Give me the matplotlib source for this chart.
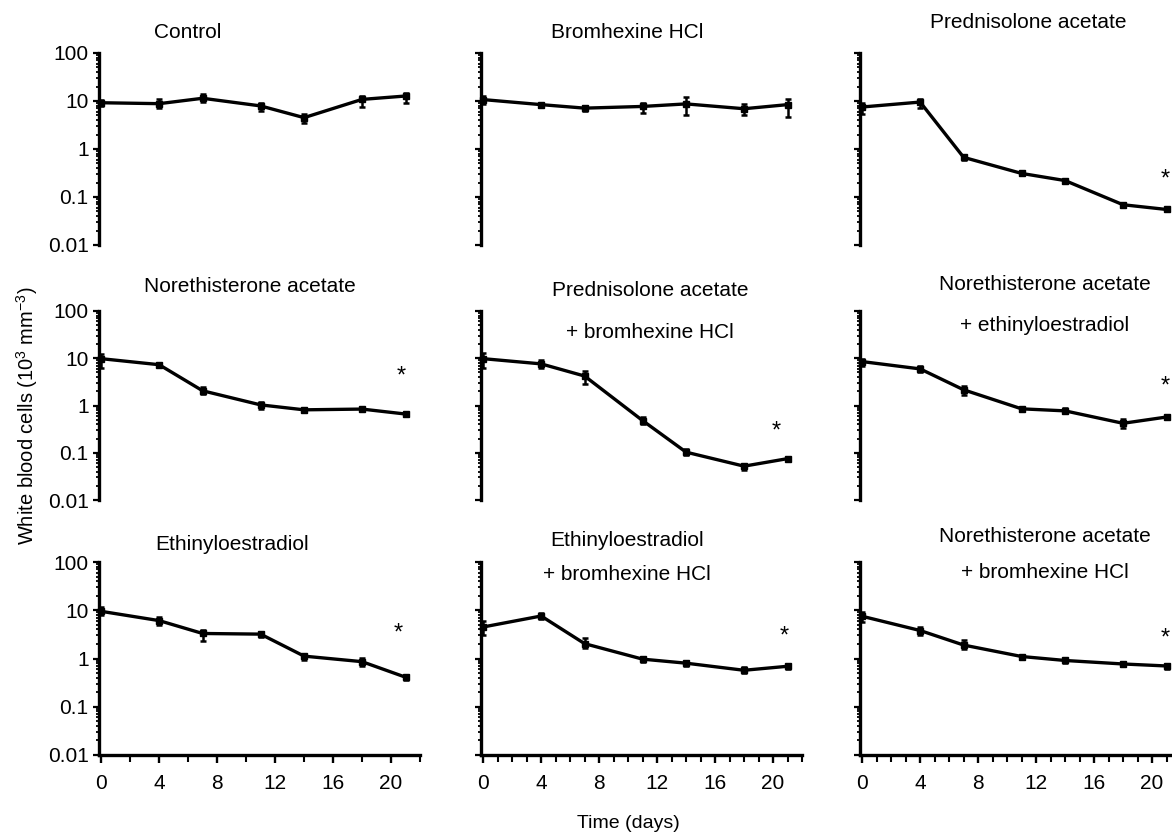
import numpy as np
import matplotlib.pyplot as plt
from matplotlib.ticker import FixedLocator, LogLocator, MultipleLocator, NullFormatter

plt.rcParams['font.family'] = ['Liberation Sans', 'DejaVu Sans']
plt.rcParams['mathtext.fontset'] = 'custom'
plt.rcParams['mathtext.rm'] = 'Liberation Sans'
plt.rcParams['mathtext.it'] = 'Liberation Sans:italic'

# sampling days (same for all groups)
days = [0, 4, 7, 11, 14, 18, 21]

# mean WBC (10^3 mm^-3) and error bar low / high
control = [9.2, 8.8, 11.4, 7.9, 4.5, 10.8, 12.7]
control_lo = [8.0, 7.3, 9.5, 6.2, 3.5, 7.6, 9.2]
control_hi = [10.5, 10.8, 13.8, 9.2, 5.3, 12.7, 14.9]

bromhex = [10.7, 8.4, 7.1, 7.7, 8.7, 6.9, 8.4]
bromhex_lo = [8.5, 7.6, 6.1, 5.6, 5.2, 5.0, 4.6]
bromhex_hi = [12.5, 9.1, 8.0, 9.1, 11.9, 8.7, 11.1]

pred = [7.5, 9.5, 0.67, 0.31, 0.22, 0.069, 0.055]
pred_lo = [5.3, 7.0, 0.59, 0.29, 0.20, 0.062, 0.050]
pred_hi = [9.2, 10.8, 0.73, 0.34, 0.24, 0.074, 0.060]

noreth = [9.8, 7.3, 2.05, 1.03, 0.81, 0.84, 0.66]
noreth_lo = [6.2, 6.7, 1.75, 0.85, 0.74, 0.77, 0.60]
noreth_hi = [12.4, 8.1, 2.5, 1.17, 0.88, 0.91, 0.71]

pred_brom = [9.8, 7.6, 4.2, 0.48, 0.103, 0.052, 0.075]
pred_brom_lo = [6.3, 6.1, 2.8, 0.41, 0.088, 0.043, 0.069]
pred_brom_hi = [12.9, 9.4, 5.3, 0.56, 0.12, 0.059, 0.081]

noreth_eth = [8.5, 5.95, 2.15, 0.85, 0.77, 0.42, 0.57]
noreth_eth_lo = [6.7, 5.2, 1.7, 0.77, 0.69, 0.34, 0.53]
noreth_eth_hi = [9.7, 6.7, 2.65, 0.95, 0.88, 0.52, 0.62]

ethinyl = [9.5, 6.1, 3.3, 3.2, 1.12, 0.86, 0.41]
ethinyl_lo = [7.8, 4.9, 2.3, 2.8, 0.94, 0.69, 0.36]
ethinyl_hi = [11.8, 7.2, 3.9, 3.6, 1.25, 1.02, 0.46]

eth_brom = [4.5, 7.6, 2.03, 0.97, 0.80, 0.57, 0.69]
eth_brom_lo = [3.1, 6.5, 1.65, 0.86, 0.70, 0.49, 0.62]
eth_brom_hi = [6.0, 8.6, 2.7, 1.1, 0.86, 0.68, 0.77]

noreth_brom = [7.5, 3.8, 1.9, 1.1, 0.91, 0.77, 0.70]
noreth_brom_lo = [5.7, 3.0, 1.6, 1.0, 0.80, 0.70, 0.60]
noreth_brom_hi = [9.2, 4.6, 2.4, 1.2, 0.98, 0.85, 0.78]

# significance stars (day, value); None for groups without one
star_day = [None, None, 20.9, 20.7, 20.2, 20.9, 20.5, 20.8, 20.9]
star_val = [None, None, 0.23, 4.2, 0.28, 2.5, 3.3, 2.8, 2.6]

titles = [
    ["Control"], ["Bromhexine HCl"], ["Prednisolone acetate"],
    ["Norethisterone acetate"], ["Prednisolone acetate", "+ bromhexine HCl"],
    ["Norethisterone acetate", "+ ethinyloestradiol"],
    ["Ethinyloestradiol"], ["Ethinyloestradiol", "+ bromhexine HCl"],
    ["Norethisterone acetate", "+ bromhexine HCl"],
]
ytick_vals = [0.01, 0.1, 1, 10, 100]
ytick_text = ["0.01", "0.1", "1", "10", "100"]
xtick_vals = [0, 4, 8, 12, 16, 20]

series = [
    (control, control_lo, control_hi), (bromhex, bromhex_lo, bromhex_hi),
    (pred, pred_lo, pred_hi), (noreth, noreth_lo, noreth_hi),
    (pred_brom, pred_brom_lo, pred_brom_hi), (noreth_eth, noreth_eth_lo, noreth_eth_hi),
    (ethinyl, ethinyl_lo, ethinyl_hi), (eth_brom, eth_brom_lo, eth_brom_hi),
    (noreth_brom, noreth_brom_lo, noreth_brom_hi),
]

W, H = 1172, 833
fig = plt.figure(figsize=(W / 100, H / 100), dpi=100)

col_x = [99, 481, 860]
row_y = [(53, 245), (311, 500), (562, 755)]
ax_w = 321

# title positions in pixels (centre x, y of first line, y of second line)
title_pos = [
    (188, 33, None), (627, 32, None), (1028, 22, None),
    (250, 287, None), (650, 290, 332), (1045, 285, 325),
    (232, 545, None), (627, 540, 575), (1045, 537, 573),
]

for i in range(9):
    r, c = divmod(i, 3)
    top, bot = row_y[r]
    ax = fig.add_axes([col_x[c] / W, 1 - bot / H, ax_w / W, (bot - top) / H])
    mean, lo, hi = series[i]
    mean = np.array(mean)
    yerr = [mean - np.array(lo), np.array(hi) - mean]
    ax.errorbar(days, mean, yerr=yerr, color='black', lw=2.4, marker='s', ms=4.5,
                capsize=2.5, elinewidth=1.8, capthick=1.8, clip_on=False)
    if star_day[i] is not None:
        ax.text(star_day[i], star_val[i], '*', fontsize=17, ha='center', va='center',
                clip_on=False)

    ax.set_yscale('log')
    ax.set_ylim(0.01, 100)
    ax.set_xlim(-0.15, 22)
    for s in ['top', 'right']:
        ax.spines[s].set_visible(False)
    ax.spines['left'].set_linewidth(2.4)
    ax.yaxis.set_major_locator(FixedLocator(ytick_vals))
    ax.yaxis.set_minor_locator(LogLocator(base=10, subs=np.arange(2, 10)))
    ax.yaxis.set_minor_formatter(NullFormatter())
    ax.tick_params(axis='y', which='major', direction='out', length=4, width=1.6)
    ax.tick_params(axis='y', which='minor', direction='out', length=2.5, width=1.3)
    if c == 0:
        ax.set_yticklabels(ytick_text, fontsize=15)
    else:
        ax.set_yticklabels([])

    if r == 2:
        ax.spines['bottom'].set_linewidth(2.4)
        ax.xaxis.set_major_locator(FixedLocator(xtick_vals))
        ax.xaxis.set_minor_locator(MultipleLocator(2 if c == 0 else 1))
        ax.tick_params(axis='x', which='major', direction='out', length=6, width=1.7,
                       labelsize=15, pad=8)
        ax.tick_params(axis='x', which='minor', direction='out', length=5, width=1.5)
    else:
        ax.spines['bottom'].set_visible(False)
        ax.set_xticks([])
        ax.xaxis.set_minor_locator(FixedLocator([]))

    px, py1, py2 = title_pos[i]
    fig.text(px / W, 1 - py1 / H, titles[i][0], fontsize=15, ha='center', va='center')
    if py2 is not None:
        fig.text(px / W, 1 - py2 / H, titles[i][1], fontsize=15, ha='center', va='center')

fig.text(27 / W, 1 - 416 / H, 'White blood cells (10$^3$ mm$^{-3}$)', rotation=90,
         fontsize=14.5, ha='center', va='center')
fig.text(628 / W, 1 - 823 / H, 'Time (days)', fontsize=14, ha='center', va='center')

fig.savefig('out.png', dpi=100)
